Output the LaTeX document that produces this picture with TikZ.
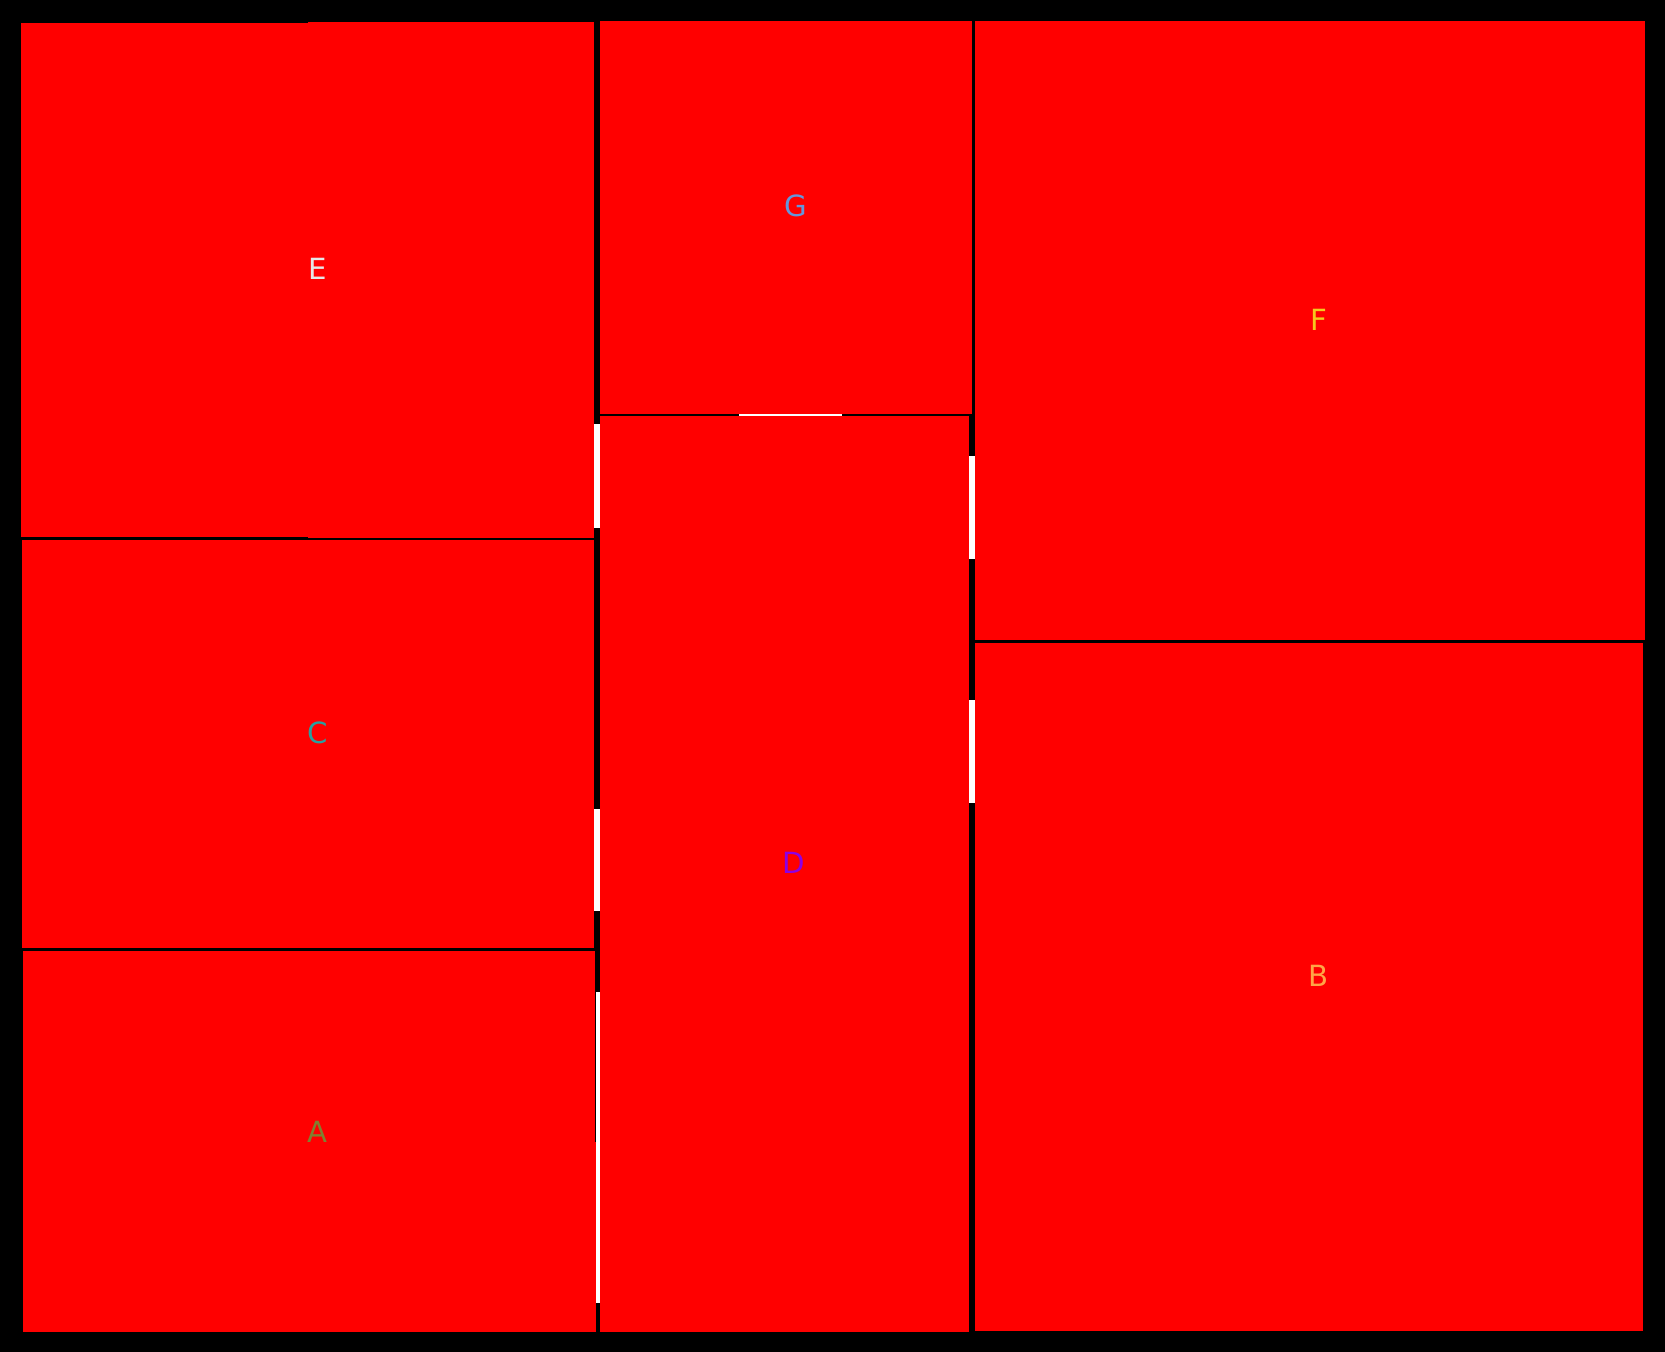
\documentclass[tikz,border=0pt]{standalone}
\usepackage{fontspec}
\setmainfont{DejaVu Sans}
\begin{document}
\begin{tikzpicture}[x=0.01cm,y=-0.01cm,
  room/.style={fill=red},
  door/.style={fill=white},
  lbl/.style={font=\fontsize{8.3}{9}\selectfont, inner sep=0pt}]
\fill[black] (0,0) rectangle (1665,1352);
\useasboundingbox (0,0) rectangle (1665,1352);
% rooms
\fill[room] (21,23) rectangle (308,537);    % E left
\fill[room] (308,22) rectangle (594,538);   % E right
\fill[room] (22,540) rectangle (594,948);   % C
\fill[room] (23,951) rectangle (595,1142);  % A upper
\fill[room] (23,1142) rectangle (596,1332); % A lower
\fill[room] (600,21) rectangle (972,414);   % G
\fill[room] (600,416) rectangle (969,1332); % D
\fill[room] (975,21) rectangle (1645,640);  % F
\fill[room] (975,643) rectangle (1643,1331);% B
% doors
\fill[door] (594,424) rectangle (600,528);
\fill[door] (739,414) rectangle (842,416);
\fill[door] (969,456) rectangle (975,559);
\fill[door] (969,700) rectangle (975,803);
\fill[door] (594,809) rectangle (600,911);
\fill[door] (596,992) rectangle (600,1303);
% labels
\node[lbl, text={rgb,255:red,230;green,230;blue,230}] (E) at (318,269) {E};
\node[lbl, text={rgb,255:red,100;green,150;blue,220}] (G) at (796,206) {G};
\node[lbl, text={rgb,255:red,245;green,200;blue,30}] (F) at (1319,320) {F};
\node[lbl, text={rgb,255:red,40;green,160;blue,160}] (C) at (318,733) {C};
\node[lbl, text={rgb,255:red,128;green,128;blue,48}] (A) at (317,1132) {A};
\node[lbl, text={rgb,255:red,140;green,0;blue,230}] (D) at (794,863) {D};
\node[lbl, text={rgb,255:red,255;green,165;blue,70}] (B) at (1319,976) {B};
\end{tikzpicture}
\end{document}
